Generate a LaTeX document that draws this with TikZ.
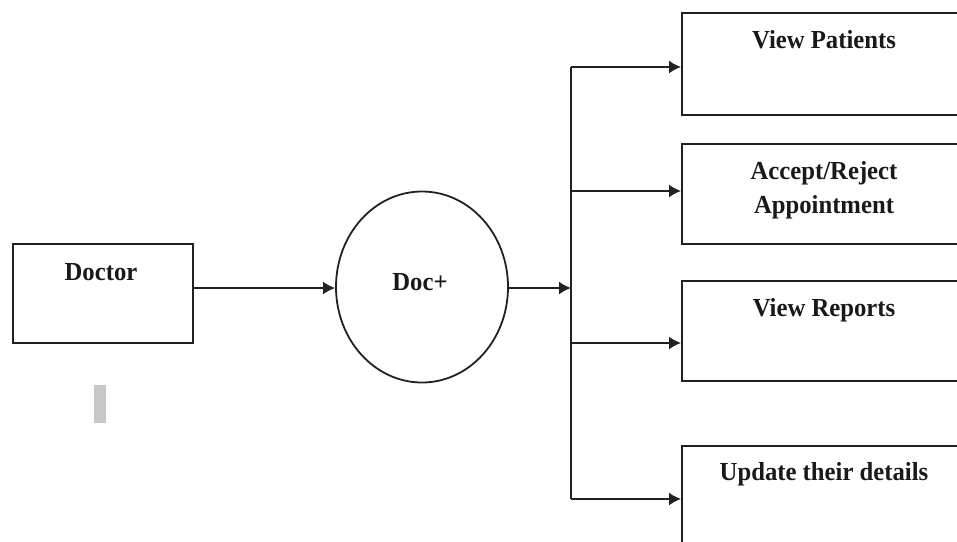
\documentclass[tikz,border=0pt]{standalone}
\usepackage{fontspec}
\setmainfont[FakeStretch=0.95]{Liberation Serif}
\usetikzlibrary{arrows.meta,shapes.geometric}
\definecolor{ink}{gray}{0.13}
\tikzset{
 box/.style={draw=ink,line width=1.8pt,fill=white,anchor=north west,inner sep=0pt},
 lbl/.style={font=\bfseries\fontsize{26}{34}\selectfont,align=center,text=black!90,inner sep=0pt},
 conn/.style={draw=ink,line width=1.8pt,-{Latex[length=12pt,width=13pt]}},
 plain/.style={draw=ink,line width=1.8pt}
}
\begin{document}
\begin{tikzpicture}[x=1pt,y=-1pt]
\useasboundingbox (0,0) rectangle (957,541);
\node[box,minimum width=180pt,minimum height=99pt] (doctor) at (12,243) {};
\node[lbl] (doctorl) at (101,272) {Doctor};
\node[draw=ink,line width=1.8pt,ellipse,minimum width=172pt,minimum height=191pt,inner sep=0pt] (doc) at (422,287) {};
\node[lbl] (docl) at (420,282) {Doc+};
\node[box,minimum width=290pt,minimum height=102pt] (b1) at (681,12) {};
\node[lbl] (b1l) at (824,40) {View Patients};
\node[box,minimum width=290pt,minimum height=100pt] (b2) at (681,143) {};
\node[lbl] (b2l) at (824,190) {Accept/Reject\\Appointment};
\node[box,minimum width=290pt,minimum height=100pt] (b3) at (681,280) {};
\node[lbl] (b3l) at (824,310) {View Reports};
\node[box,minimum width=290pt,minimum height=110pt] (b4) at (681,445) {};
\node[lbl] (b4l) at (824,474) {Update their details};
\fill[black!22] (94,385) rectangle (106,423);
\coordinate (j) at (571,288);
\coordinate (top) at (571,67);
\coordinate (bot) at (571,499);
\draw[conn] (doctor.east |- 0,288) -- (doc.west |- 0,288);
\draw[conn] (doc.east |- 0,288) -- (j);
\draw[plain] (top) -- (bot);
\draw[conn] (top) -- (b1.west |- top);
\draw[conn] (571,191) -- (b2.west |- 0,191);
\draw[conn] (571,343) -- (b3.west |- 0,343);
\draw[conn] (bot) -- (b4.west |- bot);
\end{tikzpicture}
\end{document}
